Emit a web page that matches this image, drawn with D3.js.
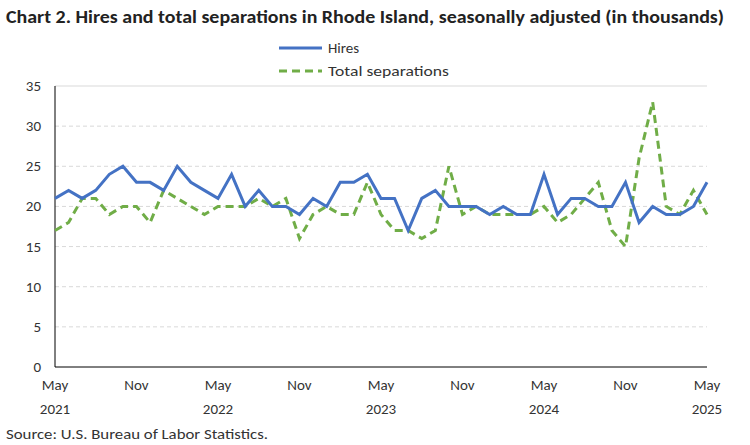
<!DOCTYPE html>
<html><head><meta charset="utf-8">
<script src="https://cdn.jsdelivr.net/npm/d3@7"></script>
<style>body{margin:0;background:#fff;font-family:Calibri,Carlito,Lato,"Liberation Sans",Arial,sans-serif}</style>
</head><body><div id="chart"></div>
<script>
// Monthly values, May 2021 - May 2025
const hires = [21,22,21,22,24,25,23,23,22,25,23,22,21,24,20,22,20,20,19,21,20,23,23,24,21,21,17,21,22,20,20,20,19,20,19,19,24,19,21,21,20,20,23,18,20,19,19,20,23];
const separations = [17,18,21,21,19,20,20,18,22,21,20,19,20,20,20,21,20,21,16,19,20,19,19,23,19,17,17,16,17,25,19,20,19,19,19,19,20,18,19,21,23,17,15,26,33,20,19,22,19];
const yTicks = [0,5,10,15,20,25,30,35];
const xLabels = [[0,"May","2021"],[6,"Nov",""],[12,"May","2022"],[18,"Nov",""],[24,"May","2023"],[30,"Nov",""],[36,"May","2024"],[42,"Nov",""],[48,"May","2025"]];

const W = 750, H = 445;
const m = { left: 55, right: 43, top: 86, bottom: 78 };
const svg = d3.select("#chart").append("svg").attr("width", W).attr("height", H);

const x = d3.scaleLinear().domain([0, 48]).range([m.left, W - m.right]);
const y = d3.scaleLinear().domain([0, 35]).range([H - m.bottom, m.top]);

svg.append("text").attr("x", 6).attr("y", 23).attr("font-size", 17).attr("font-weight", "bold")
    .attr("textLength", 718).attr("lengthAdjust", "spacingAndGlyphs")
    .attr("fill", "#222").text("Chart 2. Hires and total separations in Rhode Island, seasonally adjusted (in thousands)");

// gridlines
svg.selectAll(".grid").data(yTicks.filter(d => d > 0)).enter().append("line")
    .attr("x1", m.left).attr("x2", W - m.right)
    .attr("y1", d => y(d)).attr("y2", d => y(d))
    .attr("stroke", "#d9d9d9").attr("stroke-dasharray", d => d === 35 ? null : "4,3");

svg.selectAll(".yl").data(yTicks).enter().append("text")
    .attr("x", m.left - 14).attr("y", d => y(d) + 5).attr("text-anchor", "end")
    .attr("font-size", 15).attr("fill", "#333").text(d => d);

svg.append("line").attr("x1", m.left).attr("x2", m.left).attr("y1", y(35)).attr("y2", y(0)).attr("stroke", "#000");
svg.append("line").attr("x1", m.left).attr("x2", W - m.right).attr("y1", y(0)).attr("y2", y(0)).attr("stroke", "#000");

xLabels.forEach(([i, mo, yr]) => {
    svg.append("text").attr("x", x(i)).attr("y", y(0) + 23).attr("text-anchor", "middle")
        .attr("font-size", 15).attr("fill", "#333").text(mo);
    if (yr) svg.append("text").attr("x", x(i)).attr("y", y(0) + 47).attr("text-anchor", "middle")
        .attr("font-size", 15).attr("fill", "#333").text(yr);
});

const line = d3.line().x((d, i) => x(i)).y(d => y(d));
svg.append("path").datum(separations).attr("d", line).attr("fill", "none")
    .attr("stroke", "#70ad47").attr("stroke-width", 3).attr("stroke-dasharray", "8,5");
svg.append("path").datum(hires).attr("d", line).attr("fill", "none")
    .attr("stroke", "#4472c4").attr("stroke-width", 3);

// legend
svg.append("line").attr("x1", 279).attr("x2", 322).attr("y1", 48).attr("y2", 48).attr("stroke", "#4472c4").attr("stroke-width", 3);
svg.append("text").attr("x", 328).attr("y", 53).attr("font-size", 15).attr("fill", "#333").text("Hires");
svg.append("line").attr("x1", 279).attr("x2", 322).attr("y1", 71).attr("y2", 71).attr("stroke", "#70ad47").attr("stroke-width", 3).attr("stroke-dasharray", "8,5");
svg.append("text").attr("x", 328).attr("y", 76).attr("font-size", 15).attr("fill", "#333")
    .attr("textLength", 121).attr("lengthAdjust", "spacingAndGlyphs").text("Total separations");

svg.append("text").attr("x", 6).attr("y", 439).attr("font-size", 14).attr("fill", "#333")
    .attr("textLength", 262).attr("lengthAdjust", "spacingAndGlyphs").text("Source: U.S. Bureau of Labor Statistics.");
</script></body></html>
